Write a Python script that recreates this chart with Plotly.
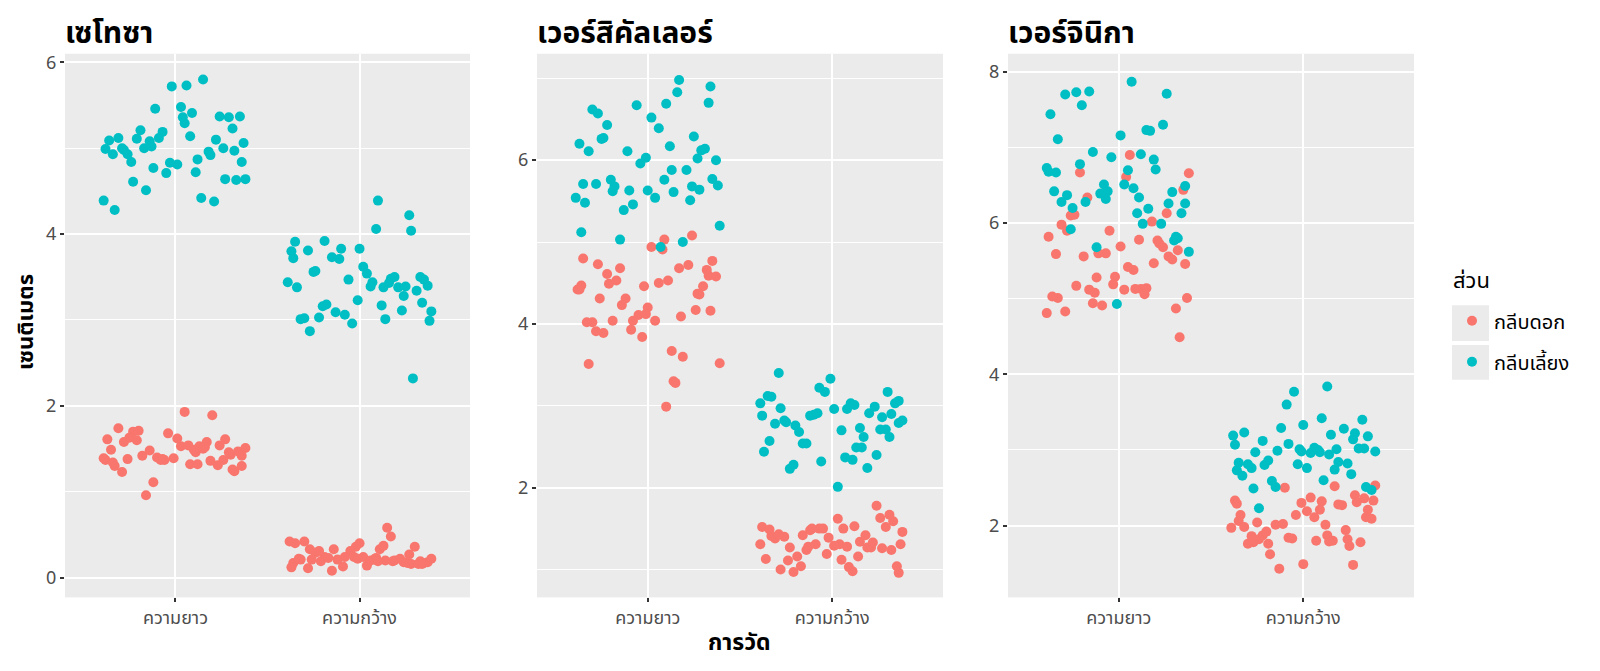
import plotly.graph_objects as go

# ชื่อสายพันธุ์, หมวดการวัด และส่วนของดอก
species_names = ["เซโทซา", "เวอร์สิคัลเลอร์", "เวอร์จินิกา"]
measure_labels = ["ความยาว", "ความกว้าง"]
part_labels = ["กลีบดอก", "กลีบเลี้ยง"]
part_colors = ["#F8766D", "#00BFC4"]

# ค่าที่วัดได้ (ซม.) อ่านจากภาพ
setosa_sepal_length = [5.1, 4.9, 4.7, 4.6, 5.0, 5.4, 4.6, 5.0, 4.4, 4.9, 5.4, 4.8, 4.8, 4.3, 5.8, 5.7, 5.4, 5.1, 5.7, 5.1,
                       5.4, 5.1, 4.6, 5.1, 4.8, 5.0, 5.0, 5.2, 5.2, 4.7, 4.8, 5.4, 5.2, 5.5, 4.9, 5.0, 5.5, 4.9, 4.4, 5.1,
                       5.0, 4.5, 4.4, 5.0, 5.1, 4.8, 5.1, 4.6, 5.3, 5.0]
setosa_sepal_width = [3.5, 3.0, 3.2, 3.1, 3.6, 3.9, 3.4, 3.4, 2.9, 3.1, 3.7, 3.4, 3.0, 3.0, 4.0, 4.4, 3.9, 3.5, 3.8, 3.8,
                      3.4, 3.7, 3.6, 3.3, 3.4, 3.0, 3.4, 3.5, 3.4, 3.2, 3.1, 3.4, 4.1, 4.2, 3.1, 3.2, 3.5, 3.6, 3.0, 3.4,
                      3.5, 2.3, 3.2, 3.5, 3.8, 3.0, 3.8, 3.2, 3.7, 3.3]
setosa_petal_length = [1.4, 1.4, 1.3, 1.5, 1.4, 1.7, 1.4, 1.5, 1.4, 1.5, 1.5, 1.6, 1.4, 1.1, 1.2, 1.5, 1.3, 1.4, 1.7, 1.5,
                       1.7, 1.5, 1.0, 1.7, 1.9, 1.6, 1.6, 1.5, 1.4, 1.6, 1.6, 1.5, 1.5, 1.4, 1.5, 1.2, 1.3, 1.4, 1.3, 1.5,
                       1.3, 1.3, 1.3, 1.6, 1.9, 1.4, 1.6, 1.4, 1.5, 1.4]
setosa_petal_width = [0.2, 0.2, 0.2, 0.2, 0.2, 0.4, 0.3, 0.2, 0.2, 0.1, 0.2, 0.2, 0.1, 0.1, 0.2, 0.4, 0.4, 0.3, 0.3, 0.3,
                      0.2, 0.4, 0.2, 0.5, 0.2, 0.2, 0.4, 0.2, 0.2, 0.2, 0.2, 0.4, 0.1, 0.2, 0.2, 0.2, 0.2, 0.1, 0.2, 0.2,
                      0.3, 0.3, 0.2, 0.6, 0.4, 0.3, 0.2, 0.2, 0.2, 0.2]

versicolor_sepal_length = [7.0, 6.4, 6.9, 5.5, 6.5, 5.7, 6.3, 4.9, 6.6, 5.2, 5.0, 5.9, 6.0, 6.1, 5.6, 6.7, 5.6, 5.8, 6.2, 5.6,
                           5.9, 6.1, 6.3, 6.1, 6.4, 6.6, 6.8, 6.7, 6.0, 5.7, 5.5, 5.5, 5.8, 6.0, 5.4, 6.0, 6.7, 6.3, 5.6, 5.5,
                           5.5, 6.1, 5.8, 5.0, 5.6, 5.7, 5.7, 6.2, 5.1, 5.7]
versicolor_sepal_width = [3.2, 3.2, 3.1, 2.3, 2.8, 2.8, 3.3, 2.4, 2.9, 2.7, 2.0, 3.0, 2.2, 2.9, 2.9, 3.1, 3.0, 2.7, 2.2, 2.5,
                          3.2, 2.8, 2.5, 2.8, 2.9, 3.0, 2.8, 3.0, 2.9, 2.6, 2.4, 2.4, 2.7, 2.7, 3.0, 3.4, 3.1, 2.3, 3.0, 2.5,
                          2.6, 3.0, 2.6, 2.3, 2.7, 3.0, 2.9, 2.9, 2.5, 2.8]
versicolor_petal_length = [4.7, 4.5, 4.9, 4.0, 4.6, 4.5, 4.7, 3.3, 4.6, 3.9, 3.5, 4.2, 4.0, 4.7, 3.6, 4.4, 4.5, 4.1, 4.5, 3.9,
                           4.8, 4.0, 4.9, 4.7, 4.3, 4.4, 4.8, 5.0, 4.5, 3.5, 3.8, 3.7, 3.9, 5.1, 4.5, 4.5, 4.7, 4.4, 4.1, 4.0,
                           4.4, 4.6, 4.0, 3.3, 4.2, 4.2, 4.2, 4.3, 3.0, 4.1]
versicolor_petal_width = [1.4, 1.5, 1.5, 1.3, 1.5, 1.3, 1.6, 1.0, 1.3, 1.4, 1.0, 1.5, 1.0, 1.4, 1.3, 1.4, 1.5, 1.0, 1.5, 1.1,
                          1.8, 1.3, 1.5, 1.2, 1.3, 1.4, 1.4, 1.7, 1.5, 1.0, 1.1, 1.0, 1.2, 1.6, 1.5, 1.6, 1.5, 1.3, 1.3, 1.3,
                          1.2, 1.4, 1.2, 1.0, 1.3, 1.2, 1.3, 1.3, 1.1, 1.3]

virginica_sepal_length = [6.3, 5.8, 7.1, 6.3, 6.5, 7.6, 4.9, 7.3, 6.7, 7.2, 6.5, 6.4, 6.8, 5.7, 5.8, 6.4, 6.5, 7.7, 7.7, 6.0,
                          6.9, 5.6, 7.7, 6.3, 6.7, 7.2, 6.2, 6.1, 6.4, 7.2, 7.4, 7.9, 6.4, 6.3, 6.1, 7.7, 6.3, 6.4, 6.0, 6.9,
                          6.7, 6.9, 5.8, 6.8, 6.7, 6.7, 6.3, 6.5, 6.2, 5.9]
virginica_sepal_width = [3.3, 2.7, 3.0, 2.9, 3.0, 3.0, 2.5, 2.9, 2.5, 3.6, 3.2, 2.7, 3.0, 2.5, 2.8, 3.2, 3.0, 3.8, 2.6, 2.2,
                         3.2, 2.8, 2.8, 2.7, 3.3, 3.2, 2.8, 3.0, 2.8, 3.0, 2.8, 3.8, 2.8, 2.8, 2.6, 3.0, 3.4, 3.1, 3.0, 3.1,
                         3.1, 3.1, 2.7, 3.2, 3.3, 3.0, 2.5, 3.0, 3.4, 3.0]
virginica_petal_length = [6.0, 5.1, 5.9, 5.6, 5.8, 6.6, 4.5, 6.3, 5.8, 6.1, 5.1, 5.3, 5.5, 5.0, 5.1, 5.3, 5.5, 6.7, 6.9, 5.0,
                          5.7, 4.9, 6.7, 4.9, 5.7, 6.0, 4.8, 4.9, 5.6, 5.8, 6.1, 6.4, 5.6, 5.1, 5.6, 6.1, 5.6, 5.5, 4.8, 5.4,
                          5.6, 5.1, 5.1, 5.9, 5.7, 5.2, 5.0, 5.2, 5.4, 5.1]
virginica_petal_width = [2.5, 1.9, 2.1, 1.8, 2.2, 2.1, 1.7, 1.8, 1.8, 2.5, 2.0, 1.9, 2.1, 2.0, 2.4, 2.3, 1.8, 2.2, 2.3, 1.5,
                         2.3, 2.0, 2.0, 1.8, 2.1, 1.8, 1.8, 1.8, 2.1, 1.6, 1.9, 2.0, 2.2, 1.5, 1.4, 2.3, 2.4, 1.8, 1.8, 2.1,
                         2.4, 2.3, 1.9, 2.3, 2.5, 2.3, 1.9, 2.0, 2.3, 1.8]

# การกระจายจุด (jitter) ในแนวนอนและแนวตั้ง
jit_x_a = [-0.31, 0.12, -0.05, 0.27, -0.38, 0.04, 0.33, -0.17, 0.21, -0.26, 0.09, -0.12, 0.36, -0.33, 0.15, -0.02, 0.29,
           -0.21, 0.06, -0.36, 0.24, -0.09, 0.38, -0.14, 0.01, 0.18, -0.29, 0.31, -0.07, 0.11, -0.24, 0.35, -0.19, 0.03,
           -0.34, 0.26, -0.11, 0.19, -0.39, 0.08, 0.32, -0.16, 0.14, -0.28, 0.22, -0.03, 0.37, -0.23, 0.05, -0.13]
jit_x_b = [0.17, -0.22, 0.34, -0.08, 0.02, -0.35, 0.25, 0.07, -0.27, 0.39, -0.15, 0.13, -0.04, -0.32, 0.28, 0.10, -0.19,
           0.35, -0.37, 0.00, 0.21, -0.11, -0.25, 0.31, 0.06, -0.30, 0.16, -0.06, 0.37, -0.18, 0.23, -0.39, 0.09, 0.27,
           -0.13, -0.01, 0.33, -0.24, 0.14, -0.34, 0.04, 0.29, -0.20, 0.19, -0.10, 0.38, -0.28, 0.12, -0.36, 0.24]
jit_x_c = [-0.07, 0.30, -0.33, 0.11, 0.36, -0.20, -0.01, 0.24, -0.38, 0.15, 0.03, -0.28, 0.19, -0.12, 0.32, -0.35, 0.08,
           0.26, -0.23, 0.13, -0.04, 0.38, -0.16, -0.31, 0.20, 0.01, -0.25, 0.34, -0.10, 0.17, -0.37, 0.07, 0.29, -0.18,
           0.10, -0.29, 0.36, -0.06, 0.23, -0.14, -0.34, 0.12, 0.31, -0.21, 0.05, -0.39, 0.27, -0.08, 0.16, -0.26]
jit_x_d = [0.22, -0.36, 0.08, -0.19, 0.33, -0.02, -0.27, 0.14, 0.37, -0.09, -0.32, 0.26, 0.04, -0.15, 0.19, -0.38, 0.30,
           -0.05, 0.11, -0.24, 0.35, -0.30, 0.02, 0.17, -0.12, 0.28, -0.35, 0.09, -0.21, 0.39, -0.03, 0.13, -0.28, 0.24,
           -0.17, 0.06, 0.32, -0.37, 0.18, -0.08, 0.27, -0.22, -0.33, 0.15, 0.00, -0.14, 0.34, -0.26, 0.10, -0.01]
jit_y_a = [0.02, -0.03, 0.01, 0.04, -0.01, -0.04, 0.03, 0.00, -0.02, 0.03, 0.01, -0.03, 0.04, -0.02, 0.00, 0.02, -0.04,
           0.01, 0.03, -0.01, -0.03, 0.02, 0.04, -0.02, 0.01, -0.04, 0.00, 0.03, -0.01, 0.02, 0.04, -0.03, 0.01, -0.02,
           0.03, 0.00, -0.04, 0.02, -0.01, 0.04, -0.03, 0.01, 0.02, -0.02, 0.00, 0.03, -0.04, 0.01, -0.01, 0.02]
jit_y_b = [-0.02, 0.03, 0.00, -0.04, 0.02, 0.01, -0.01, 0.04, -0.03, 0.00, 0.03, -0.02, -0.04, 0.01, 0.04, -0.01, 0.02,
           -0.03, 0.00, 0.03, -0.02, 0.01, -0.04, 0.04, -0.01, 0.02, 0.03, -0.03, 0.00, -0.02, 0.01, 0.04, -0.04, 0.02,
           -0.01, 0.03, 0.00, -0.03, 0.01, -0.02, 0.04, 0.02, -0.04, 0.00, 0.03, -0.01, 0.01, -0.03, 0.02, -0.02]

# the page body keeps its 8px margin, so the figure is 16px smaller than the window
PAGE_MARGIN = 8
W, H = 1600 - 2 * PAGE_MARGIN, 671 - 2 * PAGE_MARGIN
FONT = "Noto Sans Thai, Liberation Sans, Noto Sans, sans-serif"


def fx(px):
    return (px - PAGE_MARGIN) / W


def fy(py):
    return 1 - (py - PAGE_MARGIN) / H


panels = [
    dict(name=species_names[0],
         sl=setosa_sepal_length, sw=setosa_sepal_width, pl=setosa_petal_length, pw=setosa_petal_width,
         jx=(jit_x_a, jit_x_b, jit_x_c, jit_x_d), jy=(jit_y_a, jit_y_b, jit_y_b, jit_y_a),
         xdom=(65, 470), yrange=[-0.23, 6.1]),
    dict(name=species_names[1],
         sl=versicolor_sepal_length, sw=versicolor_sepal_width, pl=versicolor_petal_length, pw=versicolor_petal_width,
         jx=(jit_x_b, jit_x_c, jit_x_d, jit_x_a), jy=(jit_y_b, jit_y_a, jit_y_a, jit_y_b),
         xdom=(537, 943), yrange=[0.66, 7.3]),
    dict(name=species_names[2],
         sl=virginica_sepal_length, sw=virginica_sepal_width, pl=virginica_petal_length, pw=virginica_petal_width,
         jx=(jit_x_c, jit_x_d, jit_x_a, jit_x_b), jy=(jit_y_a, jit_y_b, jit_y_b, jit_y_a),
         xdom=(1008, 1414), yrange=[1.05, 8.24]),
]

ydom = [fy(597), fy(50)]

fig = go.Figure()
layout = {}
annotations = []

for i, p in enumerate(panels):
    n = "" if i == 0 else str(i + 1)
    jx_sl, jx_sw, jx_pl, jx_pw = p["jx"]
    jy_sl, jy_sw, jy_pl, jy_pw = p["jy"]

    petal_x = [1 + j for j in jx_pl] + [2 + j for j in jx_pw]
    petal_y = [v + j for v, j in zip(p["pl"], jy_pl)] + [v + j for v, j in zip(p["pw"], jy_pw)]
    sepal_x = [1 + j for j in jx_sl] + [2 + j for j in jx_sw]
    sepal_y = [v + j for v, j in zip(p["sl"], jy_sl)] + [v + j for v, j in zip(p["sw"], jy_sw)]

    for k, (xs, ys) in enumerate([(petal_x, petal_y), (sepal_x, sepal_y)]):
        fig.add_trace(go.Scatter(
            x=xs, y=ys, mode="markers", name=part_labels[k],
            legendgroup=part_labels[k], showlegend=(i == 0),
            marker=dict(color=part_colors[k], size=10, line=dict(width=0)),
            xaxis="x" + n, yaxis="y" + n,
        ))

    layout["xaxis" + n] = dict(
        domain=[fx(p["xdom"][0]), fx(p["xdom"][1])], anchor="y" + n,
        range=[0.4, 2.6], tickvals=[1, 2], ticktext=measure_labels,
        showgrid=True, gridcolor="white", gridwidth=1.6, zeroline=False,
        ticks="outside", ticklen=4, tickwidth=1.5, tickcolor="#333333",
        tickfont=dict(size=18, color="#4D4D4D", family=FONT),
    )
    layout["yaxis" + n] = dict(
        domain=ydom, anchor="x" + n, range=p["yrange"],
        dtick=2, tick0=0, showgrid=True, gridcolor="white", gridwidth=1.6, zeroline=False,
        minor=dict(dtick=1, tick0=0, showgrid=True, gridcolor="white", gridwidth=0.8),
        ticks="outside", ticklen=4, tickwidth=1.5, tickcolor="#333333",
        tickfont=dict(size=18, color="#4D4D4D", family=FONT),
    )
    annotations.append(dict(
        text=p["name"], x=fx(p["xdom"][0] - 2), y=fy(30), xref="paper", yref="paper",
        xanchor="left", yanchor="middle", showarrow=False,
        font=dict(size=30, color="black", family=FONT, weight="bold"),
    ))

annotations.append(dict(
    text="เซนติเมตร", x=fx(26), y=fy(320), xref="paper", yref="paper",
    textangle=-90, showarrow=False, xanchor="center", yanchor="middle",
    font=dict(size=22, color="black", family=FONT, weight="bold"),
))
annotations.append(dict(
    text="การวัด", x=fx(739), y=fy(643), xref="paper", yref="paper",
    showarrow=False, xanchor="center", yanchor="middle",
    font=dict(size=23, color="black", family=FONT, weight="bold"),
))
annotations.append(dict(
    text="ส่วน", x=fx(1451), y=fy(279), xref="paper", yref="paper",
    showarrow=False, xanchor="left", yanchor="middle",
    font=dict(size=22, color="black", family=FONT),
))

# พื้นหลังสีเทาของกล่องสัญลักษณ์ในคำอธิบาย
shapes = []
for y0, y1 in [(303, 339), (343, 378)]:
    shapes.append(dict(type="rect", xref="paper", yref="paper", layer="below",
                       x0=fx(1452), x1=fx(1489), y0=fy(y1), y1=fy(y0),
                       fillcolor="#EBEBEB", line=dict(width=0)))

fig.update_layout(
    width=W, height=H,
    margin=dict(l=0, r=0, t=0, b=0),
    paper_bgcolor="white", plot_bgcolor="#EBEBEB",
    font=dict(family=FONT),
    annotations=annotations, shapes=shapes,
    legend=dict(
        x=fx(1450), y=fy(299), xanchor="left", yanchor="top",
        font=dict(size=20, color="black", family=FONT),
        bgcolor="rgba(0,0,0,0)", tracegroupgap=12, itemwidth=34,
    ),
    **layout,
)

fig.write_html("out.html")
